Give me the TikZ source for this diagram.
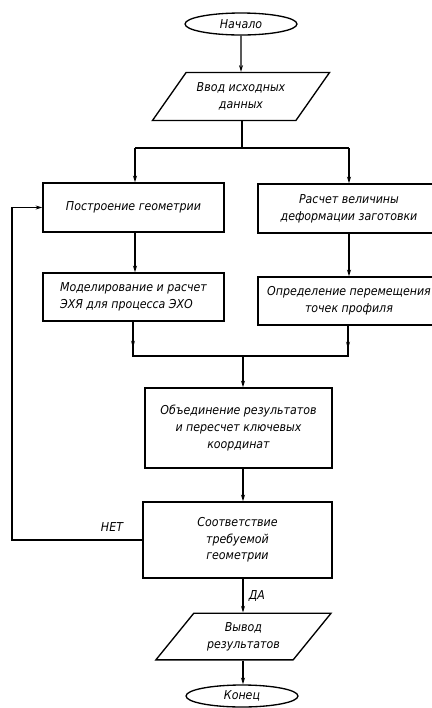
\documentclass[tikz,border=0pt]{standalone}
\usepackage{fontspec}
\setmainfont{DejaVu Sans Condensed}[ItalicFont={DejaVu Sans Condensed Oblique}]
\usetikzlibrary{shapes.geometric,arrows.meta,calc}
\begin{document}
\begin{tikzpicture}[x=0.75pt,y=-0.75pt,
  every node/.style={font=\fontsize{9.2}{12.5}\selectfont\itshape},
  term/.style={ellipse,draw,line width=1pt,minimum width=84pt,minimum height=16.5pt,inner sep=0pt},
  io/.style={trapezium,draw,line width=1pt,trapezium left angle=47,trapezium right angle=133,
    trapezium stretches=true,minimum width=133pt,minimum height=36pt,align=center,inner sep=1pt},
  proc/.style={rectangle,draw,line width=1.1pt,align=center,inner sep=2pt},
  conn/.style={line width=0.8pt},
  arr/.style={line width=0.8pt,-{Stealth[length=5pt,width=3pt]}},
  lbl/.style={inner sep=1pt}
]
\useasboundingbox (0,0) rectangle (432,708);
\clip (0,0) rectangle (432,708);

\node[term] (start) at (241,24) {Начало};
\node[io] (in) at (241,96.5) {Ввод исходных\\данных};

\node[proc,minimum width=135.75pt,minimum height=36.75pt] (b1) at (133.5,207.5) {Построение геометрии};
\node[proc,minimum width=136.5pt,minimum height=36.75pt] (b2) at (349,208.5) {Расчет величины\\деформации заготовки};
\node[proc,minimum width=135.75pt,minimum height=36pt,align=left] (b3) at (133.5,297) {Моделирование и расчет\\ЭХЯ для процесса ЭХО};
\node[proc,minimum width=136.5pt,minimum height=36pt] (b4) at (349,301) {Определение перемещения\\точек профиля};
\node[proc,minimum width=140.25pt,minimum height=60pt] (b5) at (238.5,428) {Объединение результатов\\и пересчет ключевых\\координат};
\node[proc,minimum width=141.75pt,minimum height=57pt] (b6) at (237.5,540) {Соответствие\\требуемой\\геометрии};
\node[io,minimum width=132pt,minimum height=35pt] (out) at (243.5,636.5) {Вывод\\результатов};
\node[term] (end) at (242,696) {Конец};

% start -> input
\draw[arr] (start) -- (in);
% split
\coordinate (s) at (242,148);
\coordinate (sl) at (135,148);
\coordinate (sr) at (349,148);
\draw[conn] (in.south -| s) -- (s);
\draw[conn] (sl) -- (sr);
\draw[arr] (sl) -- (b1.north -| sl);
\draw[arr] (sr) -- (b2.north -| sr);
% columns
\draw[arr] (b1.south -| sl) -- (b3.north -| sl);
\draw[arr] (b2.south -| sr) -- (b4.north -| sr);
% join
\coordinate (jl) at (133,356);
\coordinate (jr) at (348,356);
\coordinate (jm) at (243,356);
\draw[conn] (b3.south -| jl) -- (jl) -- (jr) -- (b4.south -| jr);
\draw[arr] (b3.south -| jl) -- ($(b3.south -| jl)!0.75!(jl)$);
\draw[arr] (b4.south -| jr) -- ($(b4.south -| jr)!0.75!(jr)$);
\draw[arr] (jm) -- (b5.north -| jm);
\draw[arr] (b5.south -| jm) -- (b6.north -| jm);
% yes
\draw[arr] (b6.south -| jm) -- (out.north -| jm) node[lbl,pos=0.5,anchor=west,xshift=3pt] {ДА};
\draw[arr] (out.south -| jm) -- (end.north -| jm);
% no loop
\coordinate (lx) at (12,540);
\draw[arr] (b6.west) -- (lx) -- (lx |- b1.west) -- (b1.west);
\node[lbl] (net) at (112,527) {НЕТ};
\end{tikzpicture}
\end{document}
